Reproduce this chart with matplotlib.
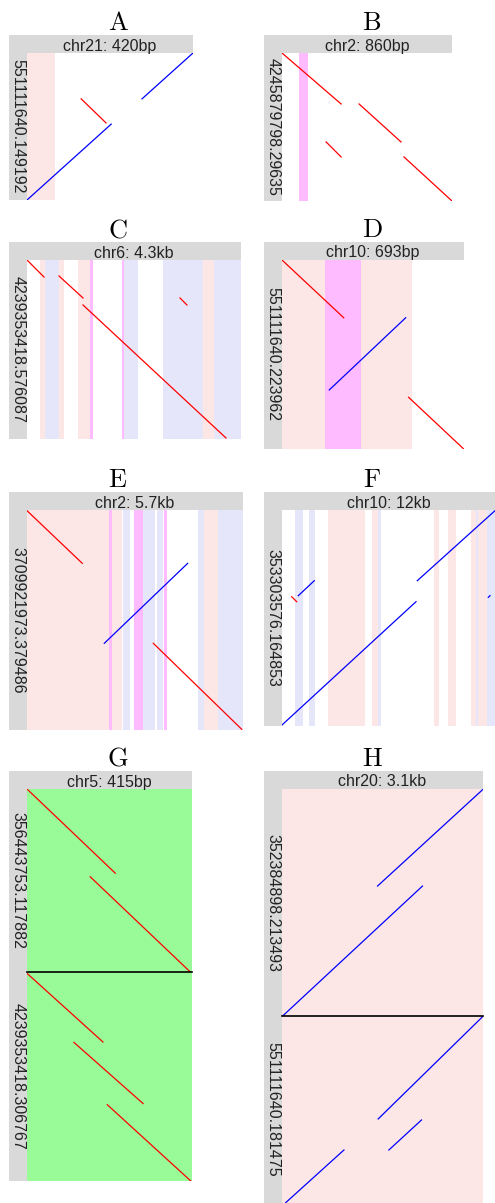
import matplotlib
matplotlib.use("Agg")
import matplotlib.pyplot as plt

plt.rcParams["font.family"] = ["Liberation Sans", "DejaVu Sans"]
plt.rcParams["mathtext.fontset"] = "cm"

W, H = 495, 1203
GRAY = "#d9d9d9"
BAND_COLORS = {"pink": "#fde6e6", "blue": "#e6e6fa", "magenta": "#ffbbff", "green": "#98fb98"}
STRAND_COLORS = {"+": "#ff0000", "-": "#0000ff"}

# hits are (ref_start, ref_end, qry_start, qry_end, strand), bands are (start, end, kind)
a_ref = "chr21: 420bp"
a_qry = ["551111640.149192"]
a_xlen = 420
a_ylen = [372]
a_bands = [(0, 71, "pink")]
a_hits = [[(0, 213, 372, 180, "-"), (137, 200, 116, 177, "+"), (291, 420, 116, 0, "-")]]

b_ref = "chr2: 860bp"
b_qry = ["4245879798.29635"]
b_xlen = 860
b_ylen = [749]
b_bands = [(86, 132, "magenta")]
b_hits = [[(0, 299, 0, 258, "+"), (390, 602, 258, 450, "+"),
           (223, 299, 450, 526, "+"), (617, 860, 526, 749, "+")]]

c_ref = "chr6: 4.3kb"
c_qry = ["4239353418.576087"]
c_xlen = 4300
c_ylen = [3597]
c_bands = [(261, 362, "pink"), (362, 643, "blue"), (643, 743, "pink"),
           (1025, 1266, "pink"), (1266, 1326, "magenta"), (1909, 1949, "magenta"),
           (1949, 2230, "blue"), (2732, 3536, "blue"), (3536, 3757, "pink"),
           (3757, 4300, "blue")]
c_hits = [[(0, 342, 0, 342, "+"), (643, 1125, 321, 763, "+"),
           (1125, 3998, 904, 3576, "+"), (3074, 3214, 763, 904, "+")]]

d_ref = "chr10: 693bp"
d_qry = ["551111640.223962"]
d_xlen = 693
d_ylen = [720]
d_bands = [(0, 164, "pink"), (164, 301, "magenta"), (301, 495, "pink")]
d_hits = [[(0, 235, 0, 220, "+"), (180, 471, 495, 220, "-"), (482, 692, 523, 720, "+")]]

e_ref = "chr2: 5.7kb"
e_qry = ["3709921973.379486"]
e_xlen = 5700
e_ylen = [5806]
e_bands = [(0, 2164, "pink"), (2164, 2243, "magenta"), (2243, 2507, "pink"),
           (2533, 2718, "blue"), (2824, 3061, "magenta"), (3061, 3378, "blue"),
           (3431, 3589, "blue"), (3615, 3695, "magenta"), (4513, 4671, "blue"),
           (4671, 5041, "pink"), (5041, 5700, "blue")]
e_hits = [[(0, 1459, 18, 1407, "+"), (2040, 4241, 3518, 1407, "-"),
           (3333, 5666, 3518, 5787, "+")]]

f_ref = "chr10: 12kb"
f_qry = ["353303576.164853"]
f_xlen = 12000
f_ylen = [12170]
f_bands = [(732, 1200, "blue"), (1521, 1859, "blue"), (2575, 4676, "pink"),
           (5054, 5392, "pink"), (5392, 5561, "blue"), (8547, 8845, "pink"),
           (9336, 9786, "pink"), (10648, 10913, "pink"), (10913, 11060, "blue"),
           (11060, 11533, "pink"), (11533, 12000, "blue")]
f_hits = [[(0, 7550, 12113, 5166, "-"), (7623, 12000, 3983, 39, "-"),
           (918, 1820, 4828, 3983, "-"), (546, 828, 4885, 5166, "+"),
           (11623, 11719, 4918, 4828, "-")]]

g_ref = "chr5: 415bp"
g_qry = ["356443753.117882", "4239353418.306767"]
g_xlen = 415
g_ylen = [462, 525]
g_bands = [(0, 415, "green")]
g_hits = [[(1, 222, 1, 212, "+"), (159, 412, 221, 462, "+")],
          [(1, 191, 3, 175, "+"), (118, 292, 176, 330, "+"), (202, 412, 333, 525, "+")]]

h_ref = "chr20: 3.1kb"
h_qry = ["352384898.213493", "551111640.181475"]
h_xlen = 3100
h_ylen = [3500, 2875]
h_bands = [(0, 3100, "pink")]
h_hits = [[(5, 2167, 3500, 1494, "-"), (1474, 3100, 1494, 5, "-")],
          [(1483, 3100, 1581, 0, "-"), (1648, 2151, 2059, 1597, "-"),
           (57, 955, 2870, 2059, "-")]]


def rect(x0, y0, x1, y1):
    # pixel box (top-left origin) -> figure fraction
    return [x0 / W, 1 - y1 / H, (x1 - x0) / W, (y1 - y0) / H]


def bare(ax):
    ax.set_xticks([])
    ax.set_yticks([])
    for s in ax.spines.values():
        s.set_visible(False)


def draw_panel(fig, letter, col_x, box, ref, qrys, xlen, ylens, bands, hits):
    x0, px0, px1, hy0, py0, py1 = box
    frame = fig.add_axes(rect(x0, hy0, px1, py1))
    frame.set_facecolor(GRAY)
    bare(frame)

    fig.text(col_x / W, 1 - (hy0 - 5) / H, r"$\mathrm{%s}$" % letter,
             fontsize=19, ha="center", va="baseline")
    fig.text((px0 + px1) / 2 / W, 1 - (hy0 + 15.5) / H, ref,
             fontsize=11.5, ha="center", va="baseline", color="#222222")

    total = sum(ylens)
    top = py0
    for i, ylen in enumerate(ylens):
        bot = top + (py1 - py0) * ylen / total
        ax = fig.add_axes(rect(px0, top, px1, bot))
        ax.set_facecolor("white")
        for b0, b1, kind in bands:
            ax.axvspan(b0, b1, color=BAND_COLORS[kind], lw=0)
        for xs, xe, ys, ye, strand in hits[i]:
            ax.plot([xs, xe], [ys, ye], color=STRAND_COLORS[strand], lw=0.9)
        ax.set_xlim(0, xlen)
        ax.set_ylim(ylen, 0)
        bare(ax)
        if i > 0:
            ax.axhline(0, color="black", lw=1.2, clip_on=False)
        fig.text((x0 + px0) / 2 / W, 1 - (top + bot) / 2 / H, qrys[i],
                 fontsize=11.5, rotation=-90, ha="center", va="center",
                 color="#222222")
        top = bot


def main():
    fig = plt.figure(figsize=(W / 100, H / 100), dpi=100)
    draw_panel(fig, "A", 118, (9, 27, 193, 35, 53, 200), a_ref, a_qry, a_xlen, a_ylen, a_bands, a_hits)
    draw_panel(fig, "B", 372, (264, 282, 452, 35, 53, 201), b_ref, b_qry, b_xlen, b_ylen, b_bands, b_hits)
    draw_panel(fig, "C", 118, (9, 27, 241, 242, 260, 439), c_ref, c_qry, c_xlen, c_ylen, c_bands, c_hits)
    draw_panel(fig, "D", 372, (264, 282, 464, 242, 260, 449), d_ref, d_qry, d_xlen, d_ylen, d_bands, d_hits)
    draw_panel(fig, "E", 118, (9, 27, 243, 492, 510, 730), e_ref, e_qry, e_xlen, e_ylen, e_bands, e_hits)
    draw_panel(fig, "F", 372, (264, 282, 495, 492, 510, 726), f_ref, f_qry, f_xlen, f_ylen, f_bands, f_hits)
    draw_panel(fig, "G", 118, (9, 27, 192, 771, 789, 1181), g_ref, g_qry, g_xlen, g_ylen, g_bands, g_hits)
    draw_panel(fig, "H", 372, (264, 282, 483, 771, 789, 1203), h_ref, h_qry, h_xlen, h_ylen, h_bands, h_hits)
    fig.savefig("out.png", dpi=100)


if __name__ == "__main__":
    main()
